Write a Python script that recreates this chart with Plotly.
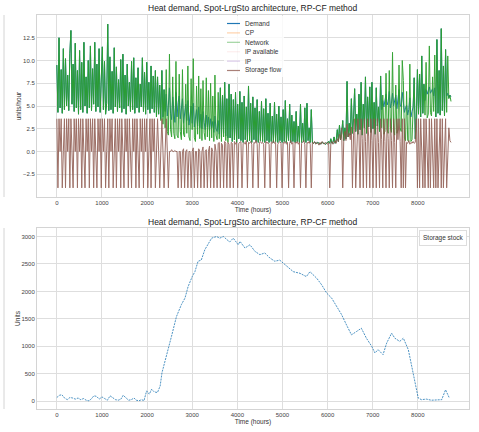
import plotly.graph_objects as go

# hourly index, one sample per day
hours = list(range(0, 8760, 24))

network = [
    9.5, 4.3, 12.5, 4.8, 9.0, 4.2, 11.3, 4.6, 10.2, 5.0,
    8.4, 4.5, 10.8, 13.3, 5.2, 9.6, 4.4, 11.9, 4.8, 8.9,
    4.1, 11.1, 4.6, 9.8, 4.3, 12.0, 5.0, 8.2, 4.2, 10.0,
    4.8, 11.6, 4.5, 9.1, 5.2, 12.0, 4.4, 9.6, 4.9, 11.3,
    4.3, 8.5, 11.5, 4.6, 9.9, 4.1, 5.3, 14.0, 4.5, 10.4,
    4.6, 8.8, 4.2, 11.4, 4.9, 9.3, 4.4, 7.9, 4.8, 10.1,
    4.3, 10.7, 4.7, 8.4, 4.1, 9.6, 5.0, 7.6, 4.4, 9.9,
    4.6, 10.3, 4.2, 8.1, 4.8, 9.2, 4.3, 7.4, 4.9, 10.3,
    4.4, 8.7, 4.1, 9.8, 4.6, 7.6, 4.2, 9.4, 4.7, 8.3,
    4.3, 8.9, 3.8, 8.2, 4.1, 7.3, 3.4, 8.9, 3.0, 6.8,
    2.6, 9.0, 2.2, 1.8, 10.7, 2.4, 1.6, 8.2, 2.0, 1.4,
    9.9, 1.8, 1.5, 8.5, 2.2, 1.3, 9.0, 1.9, 1.6, 7.4,
    2.0, 9.4, 1.6, 1.2, 8.0, 2.4, 10.2, 1.5, 1.1, 7.2,
    1.9, 8.3, 1.4, 6.9, 1.2, 7.8, 2.1, 1.3, 8.1, 1.6,
    6.7, 1.2, 7.5, 1.5, 6.1, 1.1, 8.4, 1.8, 1.3, 6.5,
    1.4, 7.0, 1.1, 6.2, 1.6, 7.6, 1.2, 5.8, 1.0, 7.4,
    1.5, 6.3, 1.1, 5.7, 1.3, 6.5, 1.0, 5.2, 1.4, 6.6,
    1.2, 5.4, 1.0, 6.1, 1.3, 4.9, 1.1, 7.2, 1.2, 5.3,
    1.0, 6.0, 1.3, 4.8, 1.1, 5.7, 1.0, 4.4, 1.2, 5.5,
    1.1, 4.7, 1.0, 5.8, 1.2, 4.2, 1.0, 5.3, 1.1, 3.9,
    1.0, 5.4, 1.1, 4.1, 1.0, 5.0, 1.2, 3.8, 1.0, 4.6,
    1.1, 5.6, 1.0, 3.6, 1.2, 5.2, 1.0, 4.0, 1.1, 3.3,
    1.0, 4.4, 1.1, 2.8, 1.0, 5.2, 1.0, 3.1, 1.1, 4.8,
    1.0, 5.3, 1.2, 2.6, 1.0, 4.6, 1.0, 0.9, 1.0, 0.9,
    0.9, 1.0, 0.9, 0.8, 0.9, 1.0, 0.9, 0.9, 0.8, 0.9,
    0.9, 1.1, 0.9, 1.4, 0.9, 1.0, 1.6, 0.9, 1.2, 2.4,
    1.1, 2.9, 1.3, 1.9, 3.4, 1.2, 2.6, 1.4, 7.7, 1.6,
    3.1, 1.8, 5.8, 2.0, 3.6, 6.9, 2.2, 4.1, 1.9, 6.3,
    2.4, 7.6, 1.8, 5.2, 2.6, 8.2, 2.0, 6.0, 2.7, 7.1,
    2.1, 7.6, 2.5, 5.4, 1.9, 7.0, 2.8, 4.9, 2.2, 8.3,
    2.6, 6.2, 1.9, 2.2, 8.6, 2.4, 2.0, 8.9, 2.7, 2.1,
    10.9, 2.3, 1.8, 7.3, 2.0, 2.4, 9.5, 2.6, 2.2, 10.0,
    7.8, 1.5, 1.2, 6.6, 1.2, 1.1, 9.6, 1.1, 1.3, 5.3,
    8.1, 1.4, 3.9, 9.0, 4.1, 8.5, 3.8, 10.5, 4.2, 7.4,
    4.0, 9.8, 3.7, 4.1, 11.6, 4.3, 3.9, 8.2, 4.4, 10.6,
    3.8, 12.3, 4.2, 8.9, 4.0, 13.5, 4.5, 9.4, 3.9, 11.2,
    4.3, 10.5, 5.8, 6.2, 5.5,
]

demand = [
    9.5, 4.3, 12.5, 4.8, 9.0, 4.2, 11.3, 4.6, 10.2, 5.0,
    8.4, 4.5, 10.8, 13.3, 5.2, 9.6, 4.4, 11.9, 4.8, 8.9,
    4.1, 11.1, 4.6, 9.8, 4.3, 12.0, 5.0, 8.2, 4.2, 10.0,
    4.8, 11.6, 4.5, 9.1, 5.2, 12.0, 4.4, 9.6, 4.9, 11.3,
    4.3, 8.5, 11.5, 4.6, 9.9, 4.1, 5.3, 14.0, 4.5, 10.4,
    4.6, 8.8, 4.2, 11.4, 4.9, 9.3, 4.4, 7.9, 4.8, 10.1,
    4.3, 10.7, 4.7, 8.4, 4.1, 9.6, 5.0, 7.6, 4.4, 9.9,
    4.6, 10.3, 4.2, 8.1, 4.8, 9.2, 4.3, 7.4, 4.9, 10.3,
    4.4, 8.7, 4.1, 9.8, 4.6, 7.6, 4.2, 9.4, 4.7, 8.3,
    4.3, 8.9, 3.8, 8.2, 4.1, 7.3, 3.6, 8.9, 3.8, 6.8,
    4.4, 6.3, 3.9, 5.1, 7.0, 4.2, 3.5, 6.0, 4.8, 3.2,
    6.5, 3.8, 5.4, 6.1, 3.6, 4.9, 5.8, 3.1, 4.5, 5.2,
    3.4, 5.6, 2.9, 4.3, 5.0, 3.1, 5.3, 2.7, 3.9, 4.6,
    2.8, 4.9, 2.6, 4.1, 2.5, 4.4, 3.2, 2.4, 4.0, 2.7,
    3.8, 2.3, 3.6, 2.6, 3.3, 2.1, 3.9, 2.5, 2.2, 3.4,
    1.9, 7.0, 1.6, 6.2, 2.0, 7.6, 1.7, 5.8, 1.5, 7.4,
    1.5, 6.3, 1.1, 5.7, 1.3, 6.5, 1.0, 5.2, 1.4, 6.6,
    1.2, 5.4, 1.0, 6.1, 1.3, 4.9, 1.1, 7.2, 1.2, 5.3,
    1.0, 6.0, 1.3, 4.8, 1.1, 5.7, 1.0, 4.4, 1.2, 5.5,
    1.1, 4.7, 1.0, 5.8, 1.2, 4.2, 1.0, 5.3, 1.1, 3.9,
    1.0, 5.4, 1.1, 4.1, 1.0, 5.0, 1.2, 3.8, 1.0, 4.6,
    1.1, 5.6, 1.0, 3.6, 1.2, 5.2, 1.0, 4.0, 1.1, 3.3,
    1.0, 4.4, 1.1, 2.8, 1.0, 5.2, 1.0, 3.1, 1.1, 4.8,
    1.0, 5.3, 1.2, 2.6, 1.0, 4.6, 1.0, 0.9, 1.0, 0.9,
    0.9, 1.0, 0.9, 0.8, 0.9, 1.0, 0.9, 0.9, 0.8, 0.9,
    0.9, 1.1, 0.9, 1.4, 0.9, 1.0, 1.6, 0.9, 1.2, 2.4,
    1.1, 2.9, 1.3, 1.9, 3.4, 1.2, 2.6, 1.4, 7.7, 1.6,
    3.1, 1.8, 5.8, 2.0, 3.6, 6.9, 2.2, 4.1, 1.9, 6.3,
    2.4, 7.6, 1.8, 5.2, 2.6, 8.2, 2.0, 6.0, 2.7, 7.1,
    2.1, 7.6, 2.5, 5.4, 1.9, 7.0, 2.8, 4.9, 2.2, 8.3,
    4.6, 5.6, 4.9, 5.8, 6.3, 5.1, 5.5, 6.6, 4.8, 5.3,
    6.4, 5.0, 5.7, 6.2, 4.7, 5.5, 6.8, 5.2, 4.9, 6.5,
    5.6, 4.3, 4.8, 5.1, 4.0, 4.6, 5.9, 3.8, 4.4, 4.9,
    8.1, 1.4, 3.9, 9.0, 4.1, 8.5, 3.8, 10.5, 4.2, 7.4,
    5.6, 6.8, 6.3, 6.9, 7.1, 6.4, 6.7, 6.9, 6.1, 7.0,
    3.8, 12.3, 4.2, 8.9, 4.0, 13.5, 4.5, 9.4, 3.9, 11.2,
    6.1, 6.4, 5.9, 6.2, 6.0,
]

storage_flow = [
    3.6, -4.0, 3.6, 0.0, 3.6, -4.0, 0.0, 3.6, -4.0, 3.6,
    0.0, 3.6, -4.0, 3.6, 0.0, -4.0, 3.6, 0.0, 3.6, -4.0,
    3.6, 0.0, 3.6, -4.0, 3.6, 0.0, -4.0, 3.6, 0.0, 3.6,
    -4.0, 3.6, 0.0, 3.6, -4.0, 3.6, 0.0, -4.0, 3.6, 0.0,
    3.6, -4.0, 3.6, 0.0, 3.6, -4.0, 0.0, 3.6, -4.0, 3.6,
    0.0, 3.6, -4.0, 0.0, 3.6, -4.0, 3.6, 0.0, 3.6, -4.0,
    3.6, 0.0, -4.0, 3.6, 0.0, 3.6, -4.0, 3.6, 0.0, -4.0,
    3.6, 0.0, 3.6, -4.0, 3.6, 0.0, -4.0, 3.6, 0.0, 3.6,
    -4.0, 3.6, 0.0, 3.6, -4.0, 0.0, 3.6, -4.0, 3.6, 0.0,
    3.6, -4.0, 0.0, 3.6, 0.0, -4.0, 0.0, 3.6, 0.0, -4.0,
    0.0, 3.6, 0.0, -4.0, 0.0, 0.0, 0.2, 0.0, 0.0, 0.1,
    0.0, 0.0, -4.0, 0.0, 0.0, -4.0, 0.0, 0.3, -4.0, 0.0,
    0.2, -4.0, 0.0, 0.0, -4.0, 0.0, 0.4, -4.0, 0.0, 0.0,
    -4.0, 0.3, 0.0, -4.0, 0.0, 0.5, -4.0, 0.0, 0.2, -4.0,
    0.0, 0.6, -4.0, 0.4, 0.0, -4.0, 0.8, 0.0, -4.0, 0.9,
    1.0, -4.0, 0.9, 0.7, -4.0, 1.1, 0.9, -4.0, 1.0, 0.8,
    -4.0, 1.0, 0.9, -4.0, 1.1, 0.8, 1.0, -4.0, 0.9, 1.0,
    1.1, -4.0, 0.9, 1.0, 0.8, 1.2, -4.0, 1.0, 0.9, 1.1,
    0.8, -4.0, 1.0, 0.9, 1.2, 0.8, -4.0, 1.0, 1.1, 0.9,
    1.0, 0.8, -4.0, 1.1, 0.9, 1.0, 0.8, -4.0, 1.0, 0.9,
    1.2, 0.9, 1.0, -4.0, 0.8, 1.0, 1.1, 0.9, -4.0, 1.0,
    0.9, 1.1, 0.8, 1.0, -4.0, 0.9, 1.2, 0.8, 1.0, -4.0,
    1.0, 0.9, 1.1, 0.8, 1.0, -4.0, 0.9, 1.0, 1.2, 0.8,
    -4.0, 1.0, 0.9, 1.1, 0.8, -4.0, 1.0, 0.9, 1.1, 0.8,
    1.0, 0.9, 0.7, 1.0, 0.8, 1.1, 0.9, 0.8, 1.0, 0.9,
    0.8, 1.0, -4.0, 0.9, 1.1, 0.8, 1.0, 1.2, 0.9, 1.4,
    1.1, 1.9, 1.3, 2.6, -4.0, 1.5, 2.2, 1.2, 3.0, 1.6,
    2.0, 1.3, 2.7, -4.0, 1.8, 3.6, -4.0, 1.2, 3.6, 2.1,
    -4.0, 3.6, 1.4, -4.0, 3.6, 1.1, -4.0, 3.6, 1.6, -4.0,
    3.6, 1.2, -4.0, 3.6, 1.5, -4.0, 3.6, 1.0, -4.0, 3.6,
    1.3, -4.0, 3.6, 1.1, -4.0, 3.6, 1.4, -4.0, 3.6, 1.2,
    -4.0, 3.6, 1.0, -4.0, 3.6, 1.3, 3.6, 1.1, -4.0, 3.6,
    -4.0, 3.6, -4.0, 1.0, 0.9, 1.2, 0.8, 1.0, 0.9, 1.1,
    0.9, 1.0, 3.6, -4.0, 3.6, -4.0, 3.6, 0.0, -4.0, 3.6,
    -4.0, 3.6, 0.0, -4.0, 3.6, -4.0, 3.6, 0.0, -4.0, 3.6,
    -4.0, 3.6, -4.0, 0.0, 3.6, -4.0, 3.6, -4.0, 0.0, 3.6,
    -4.0, 1.0, 2.6, 1.2, 1.0,
]

stock_hours = [
    0, 60, 110, 170, 230, 290, 350, 410, 470, 530, 590, 650, 710, 760, 820,
    880, 940, 1000, 1060, 1120, 1180, 1240, 1300, 1360, 1420, 1470, 1530,
    1590, 1650, 1710, 1760, 1820, 1880, 1930, 1990, 2050, 2100, 2160, 2230,
    2290, 2330, 2430, 2540, 2650, 2700, 2760, 2840, 2910, 3000, 3060, 3130,
    3200, 3280, 3350, 3430, 3540, 3610, 3690, 3760, 3830, 3910, 4020, 4060,
    4170, 4280, 4390, 4500, 4610, 4720, 4830, 4940, 5090, 5240, 5390, 5530,
    5610, 5760, 5870, 5980, 6090, 6200, 6310, 6420, 6530, 6640, 6750, 6860,
    6980, 7050, 7120, 7230, 7310, 7420, 7490, 7600, 7680, 7790, 7860, 7940,
    8010, 8080, 8190, 8300, 8410, 8530, 8615, 8700,
]
stock_values = [
    70, 110, 120, 60, 30, 70, 60, 40, 60, 30, 50, 20, 10, 40, 100,
    90, 40, 80, 50, 20, 100, 60, 30, 20, 40, 110, 60,
    20, 30, 60, 20, 10, 30, 10, 190, 130, 220, 170, 160,
    280, 520, 820, 1180, 1540, 1650, 1760, 1880, 2090, 2270, 2360, 2550,
    2570, 2760, 2850, 2970, 3000, 2970, 3000, 2950, 2900, 2970, 2850, 2910,
    2790, 2850, 2730, 2670, 2700, 2610, 2550, 2570, 2460, 2360, 2330, 2270,
    2360, 2240, 2120, 1970, 1880, 1730, 1580, 1390, 1210, 1270, 1330, 1150,
    1000, 880, 940, 850, 1060, 1240, 1150, 1090, 1150, 940, 640, 330,
    60, 30, 40, 20, 30, 30, 210, 60,
]

series_names = ['Demand', 'CP', 'Network', 'IP available', 'IP', 'Storage flow']
series_colors = ['#1f77b4', 'rgba(255,127,14,0.35)', 'rgba(44,160,44,0.45)',
                 'rgba(214,39,40,0.08)', 'rgba(148,103,189,0.35)', 'rgba(140,86,75,0.75)']

x_ticks = [0, 1000, 2000, 3000, 4000, 5000, 6000, 7000, 8000]
flow_ticks = [-2.5, 0, 2.5, 5, 7.5, 10, 12.5]
stock_ticks = [0, 500, 1000, 1500, 2000, 2500, 3000]

title_text = 'Heat demand, Spot-LrgSto architecture, RP-CF method'

W, H = 479, 432
FONT = 'Liberation Sans, Arial, sans-serif'


def px(x):
    return x / W


def py(y):
    return 1 - y / H


fig = go.Figure()

fig.add_trace(go.Scatter(x=hours, y=demand, mode='lines', name='Demand',
                         line=dict(color='#1f77b4', width=1),
                         xaxis='x', yaxis='y', showlegend=False))
fig.add_trace(go.Scatter(x=hours, y=network, mode='lines', name='Network',
                         line=dict(color='#2ca02c', width=1), opacity=0.95,
                         xaxis='x', yaxis='y', showlegend=False))
fig.add_trace(go.Scatter(x=hours, y=storage_flow, mode='lines', name='Storage flow',
                         line=dict(color='#8c564b', width=1), opacity=0.85,
                         xaxis='x', yaxis='y', showlegend=False))
fig.add_trace(go.Scatter(x=stock_hours, y=stock_values, mode='lines', name='Storage stock',
                         line=dict(color='#1f77b4', width=0.8, dash='2px,1px'),
                         xaxis='x2', yaxis='y2', showlegend=False))

axis_style = dict(showgrid=True, gridcolor='#dedede', gridwidth=1, zeroline=False,
                  showline=True, linecolor='#d4d4d4', linewidth=1, mirror=True,
                  ticks='', tickfont=dict(size=6, color='#444', family=FONT))

fig.update_layout(
    width=W, height=H,
    margin=dict(l=0, r=0, t=0, b=0),
    paper_bgcolor='white', plot_bgcolor='white',
    font=dict(family=FONT, color='#333'),
    xaxis=dict(domain=[px(37), px(469)], range=[-440, 9135], anchor='y',
               tickvals=x_ticks, title=dict(text='Time (hours)', font=dict(size=6.5), standoff=2),
               **axis_style),
    yaxis=dict(domain=[py(197), py(15)], range=[-5, 15], anchor='x',
               tickvals=flow_ticks, tickformat='.1f',
               title=dict(text='units/hour', font=dict(size=6.5), standoff=0),
               **axis_style),
    xaxis2=dict(domain=[px(37), px(469)], range=[-440, 9135], anchor='y2',
                tickvals=x_ticks, title=dict(text='Time (hours)', font=dict(size=6.5), standoff=2),
                **axis_style),
    yaxis2=dict(domain=[py(409), py(228)], range=[-140, 3155], anchor='x2',
                tickvals=stock_ticks,
                title=dict(text='Units', font=dict(size=6.5), standoff=0),
                **axis_style),
)

shapes = []
annotations = []

# subplot titles
for ty in (8, 222):
    annotations.append(dict(x=px(253), y=py(ty), xref='paper', yref='paper',
                            xanchor='center', yanchor='middle',
                            text=title_text, showarrow=False,
                            font=dict(size=8.5, color='#222')))

# legend box for the top panel
shapes.append(dict(type='rect', xref='paper', yref='paper',
                   x0=px(224), x1=px(284), y0=py(77), y1=py(16),
                   fillcolor='rgba(255,255,255,0.8)', line=dict(width=0)))
for i, (name, color) in enumerate(zip(series_names, series_colors)):
    ly = 23.5 + i * 9.4
    shapes.append(dict(type='line', xref='paper', yref='paper',
                       x0=px(227), x1=px(240), y0=py(ly), y1=py(ly),
                       line=dict(color=color, width=1.2)))
    annotations.append(dict(x=px(243), y=py(ly), xref='paper', yref='paper',
                            xanchor='left', yanchor='middle', text=name,
                            showarrow=False, font=dict(size=6.5, color='#333')))

# legend of the lower panel
annotations.append(dict(x=px(467), y=py(238), xref='paper', yref='paper',
                        xanchor='right', yanchor='middle', text='Storage stock',
                        showarrow=False, font=dict(size=6.5, color='#333'),
                        bgcolor='white', bordercolor='#dddddd', borderwidth=1, borderpad=3))

# edge of the neighbouring figure panel, cut off on the left
for y0, y1 in ((15, 197), (228, 409)):
    shapes.append(dict(type='line', xref='paper', yref='paper',
                       x0=px(4), x1=px(4), y0=py(y0), y1=py(y1),
                       line=dict(color='#d4d4d4', width=1)))

fig.update_layout(shapes=shapes, annotations=annotations)

# the page's default body margin would push the figure 8px off the corner
fig.write_html("out.html", config={'displayModeBar': False},
               post_script="document.body.style.margin='0px';")
